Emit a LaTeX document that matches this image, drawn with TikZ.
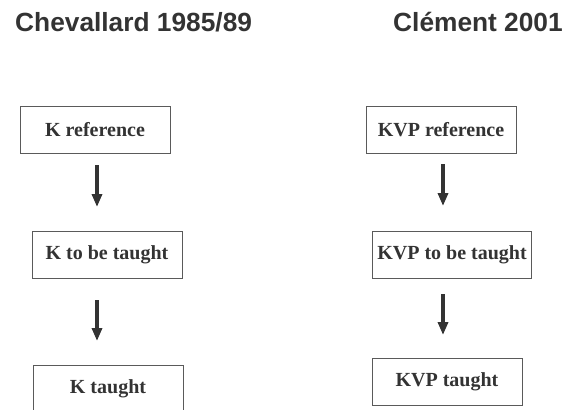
\documentclass[tikz,border=0pt]{standalone}
\usepackage{fontspec}
\setmainfont{Liberation Serif}
\setsansfont{Liberation Sans}
\usetikzlibrary{positioning,arrows.meta}
\definecolor{ink}{HTML}{333333}
\definecolor{frame}{HTML}{5A5A5A}
\tikzstyle{box} = [draw=frame, line width=1pt, minimum width=150pt, minimum height=47pt, inner sep=5pt, text=ink, font=\fontsize{20}{24}\selectfont\bfseries]
\tikzstyle{title} = [anchor=base west, inner sep=0pt, text=ink, font=\fontsize{26.3}{30}\selectfont\sffamily\bfseries]
\tikzstyle{flow} = [draw=ink, line width=4pt, -{Triangle[width=10pt,length=13pt]}]

\begin{document}
\begin{tikzpicture}[x=1pt,y=-1pt]
        \useasboundingbox (0,0) rectangle (564,409);
        \clip (0,0) rectangle (564,409);
        %Titles
        \node [title] (chev) at (15,32) {Chevallard 1985/89};
        \node [title] (clem) at (393,32) {Clément 2001};
        %Blocks left
        \node [box] (kref) at (95,130) {K reference};
        \node [box, below = 77pt of kref, xshift=12pt] (kteach) {K to be taught};
        \node [box, below = 86pt of kteach, xshift=1pt] (ktaught) {K taught};
        %Blocks right
        \node [box] (vref) at (441,130) {KVP reference};
        \node [box, below = 77pt of vref, xshift=11pt] (vteach) {KVP to be taught};
        \node [box, below = 79pt of vteach, xshift=-5pt] (vtaught) {KVP taught};
        %Arrows
        \draw[flow, shorten <=11pt, shorten >=24pt] ([xshift=2pt]kref.south) -- ([xshift=2pt]kref.south |- kteach.north);
        \draw[flow, shorten <=21pt, shorten >=24pt] ([xshift=-10pt]kteach.south) -- ([xshift=-10pt]kteach.south |- ktaught.north);
        \draw[flow, shorten <=10pt, shorten >=25pt] ([xshift=2pt]vref.south) -- ([xshift=2pt]vref.south |- vteach.north);
        \draw[flow, shorten <=15pt, shorten >=23pt] ([xshift=-9pt]vteach.south) -- ([xshift=-9pt]vteach.south |- vtaught.north);
    \end{tikzpicture}
\end{document}
